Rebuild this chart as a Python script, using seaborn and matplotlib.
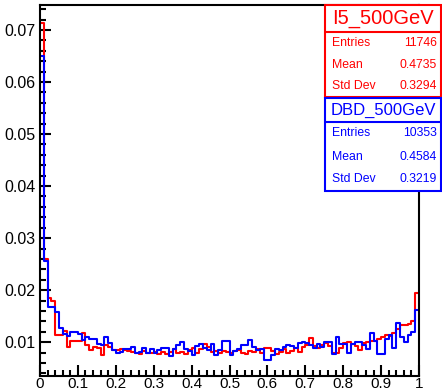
import numpy as np
import pandas as pd
import matplotlib
matplotlib.use("Agg")
import matplotlib.pyplot as plt
import seaborn as sns
from matplotlib.ticker import MultipleLocator, FormatStrFormatter
from matplotlib.patches import Rectangle

# DATA (normalised bin contents, 100 bins from 0 to 1)

bin_edges = np.linspace(0, 1, 101)

i5_500gev = [
    0.0713, 0.0260, 0.0185, 0.0180, 0.0113, 0.0113, 0.0122, 0.0090, 0.0103, 0.0103,
    0.0103, 0.0118, 0.0094, 0.0085, 0.0091, 0.0088, 0.0075, 0.0094, 0.0090, 0.0085,
    0.0085, 0.0086, 0.0085, 0.0084, 0.0082, 0.0080, 0.0078, 0.0083, 0.0080, 0.0079,
    0.0082, 0.0078, 0.0081, 0.0077, 0.0082, 0.0086, 0.0079, 0.0082, 0.0077, 0.0085,
    0.0088, 0.0080, 0.0086, 0.0097, 0.0091, 0.0082, 0.0084, 0.0080, 0.0083, 0.0081,
    0.0079, 0.0083, 0.0085, 0.0080, 0.0078, 0.0084, 0.0082, 0.0086, 0.0080, 0.0088,
    0.0089, 0.0083, 0.0078, 0.0081, 0.0086, 0.0080, 0.0084, 0.0088, 0.0082, 0.0091,
    0.0095, 0.0108, 0.0093, 0.0089, 0.0095, 0.0098, 0.0092, 0.0080, 0.0080, 0.0088,
    0.0098, 0.0100, 0.0097, 0.0092, 0.0085, 0.0098, 0.0100, 0.0102, 0.0103, 0.0107,
    0.0110, 0.0113, 0.0112, 0.0118, 0.0125, 0.0133, 0.0133, 0.0135, 0.0140, 0.0194,
]

dbd_500gev = [
    0.0650, 0.0256, 0.0167, 0.0167, 0.0158, 0.0127, 0.0115, 0.0112, 0.0120, 0.0120,
    0.0115, 0.0104, 0.0110, 0.0107, 0.0107, 0.0096, 0.0094, 0.0109, 0.0099, 0.0085,
    0.0079, 0.0081, 0.0087, 0.0087, 0.0090, 0.0080, 0.0082, 0.0088, 0.0080, 0.0087,
    0.0079, 0.0085, 0.0088, 0.0088, 0.0074, 0.0086, 0.0095, 0.0101, 0.0087, 0.0084,
    0.0076, 0.0093, 0.0096, 0.0088, 0.0085, 0.0096, 0.0076, 0.0085, 0.0103, 0.0103,
    0.0075, 0.0083, 0.0086, 0.0095, 0.0094, 0.0104, 0.0090, 0.0085, 0.0086, 0.0065,
    0.0065, 0.0076, 0.0086, 0.0085, 0.0091, 0.0094, 0.0092, 0.0089, 0.0098, 0.0101,
    0.0098, 0.0094, 0.0088, 0.0096, 0.0090, 0.0100, 0.0101, 0.0078, 0.0110, 0.0097,
    0.0097, 0.0080, 0.0097, 0.0100, 0.0100, 0.0095, 0.0087, 0.0117, 0.0103, 0.0078,
    0.0078, 0.0107, 0.0113, 0.0089, 0.0136, 0.0110, 0.0101, 0.0113, 0.0119, 0.0162,
]

stats_labels = ["Entries", "Mean", "Std Dev"]
i5_stats = ["11746", "0.4735", "0.3294"]
dbd_stats = ["10353", "0.4584", "0.3219"]

centers = (bin_edges[:-1] + bin_edges[1:]) / 2
df = pd.DataFrame({"x": centers, "i5": i5_500gev, "dbd": dbd_500gev})

# PLOT

sns.set_style("ticks")
plt.rcParams["font.family"] = ["Liberation Sans", "DejaVu Sans"]

W, H = 442, 392
fig = plt.figure(figsize=(W / 100, H / 100), dpi=100)
ax = fig.add_axes([40 / W, 1 - 376 / H, (419 - 40) / W, (376 - 5) / H])

sns.histplot(data=df, x="x", weights="i5", binwidth=0.01, binrange=(0, 1),
             element="step", fill=False, color="red", linewidth=1.5, ax=ax)
sns.histplot(data=df, x="x", weights="dbd", binwidth=0.01, binrange=(0, 1),
             element="step", fill=False, color="blue", linewidth=1.5, ax=ax)

ax.set_xlim(0, 1)
ax.set_ylim(0.0035, 0.0748)
ax.set_xlabel("")
ax.set_ylabel("")

ax.xaxis.set_major_locator(MultipleLocator(0.1))
ax.xaxis.set_minor_locator(MultipleLocator(0.02))
ax.yaxis.set_major_locator(MultipleLocator(0.01))
ax.yaxis.set_minor_locator(MultipleLocator(0.002))
ax.yaxis.set_major_formatter(FormatStrFormatter("%.2f"))
ax.set_xticks(np.linspace(0, 1, 11))
ax.set_xticklabels(["0", "0.1", "0.2", "0.3", "0.4", "0.5", "0.6", "0.7", "0.8", "0.9", "1"])

ax.tick_params(which="both", direction="in", top=False, right=False,
               colors="black", width=1.5)
ax.tick_params(which="major", length=8)
ax.tick_params(which="minor", length=4)
ax.tick_params(axis="x", pad=1, labelsize=11)
ax.tick_params(axis="y", pad=3, labelsize=11.5)

for s in ax.spines.values():
    s.set_visible(True)
    s.set_linewidth(1.5)
    s.set_color("black")

# STAT BOXES


def fx(px):
    return px / W


def fy(py):
    return 1 - py / H


def stat_box(top, sep, bottom, color, title, title_size, values):
    fig.patches.append(Rectangle((fx(325), fy(bottom)), fx(440.5) - fx(325), fy(top) - fy(bottom),
                                 transform=fig.transFigure, facecolor="white",
                                 edgecolor=color, linewidth=1.5, zorder=5))
    fig.lines.append(plt.Line2D([fx(325), fx(440.5)], [fy(sep), fy(sep)],
                                transform=fig.transFigure, color=color, linewidth=1.5, zorder=6))
    fig.text(fx(383), fy((top + sep) / 2), title, color=color, fontsize=title_size,
             ha="center", va="center", zorder=7)
    step = (bottom - sep) / 3
    for i, (lab, val) in enumerate(zip(stats_labels, values)):
        yy = sep + step * (i + 0.5)
        fig.text(fx(332), fy(yy), lab, color=color, fontsize=8.8, ha="left", va="center", zorder=7)
        fig.text(fx(437), fy(yy), val, color=color, fontsize=8.8, ha="right", va="center", zorder=7)


stat_box(5, 32, 97, "red", "I5_500GeV", 14.5, i5_stats)
stat_box(98, 122, 191, "blue", "DBD_500GeV", 12, dbd_stats)

fig.savefig("out.png", dpi=100, facecolor="white")
